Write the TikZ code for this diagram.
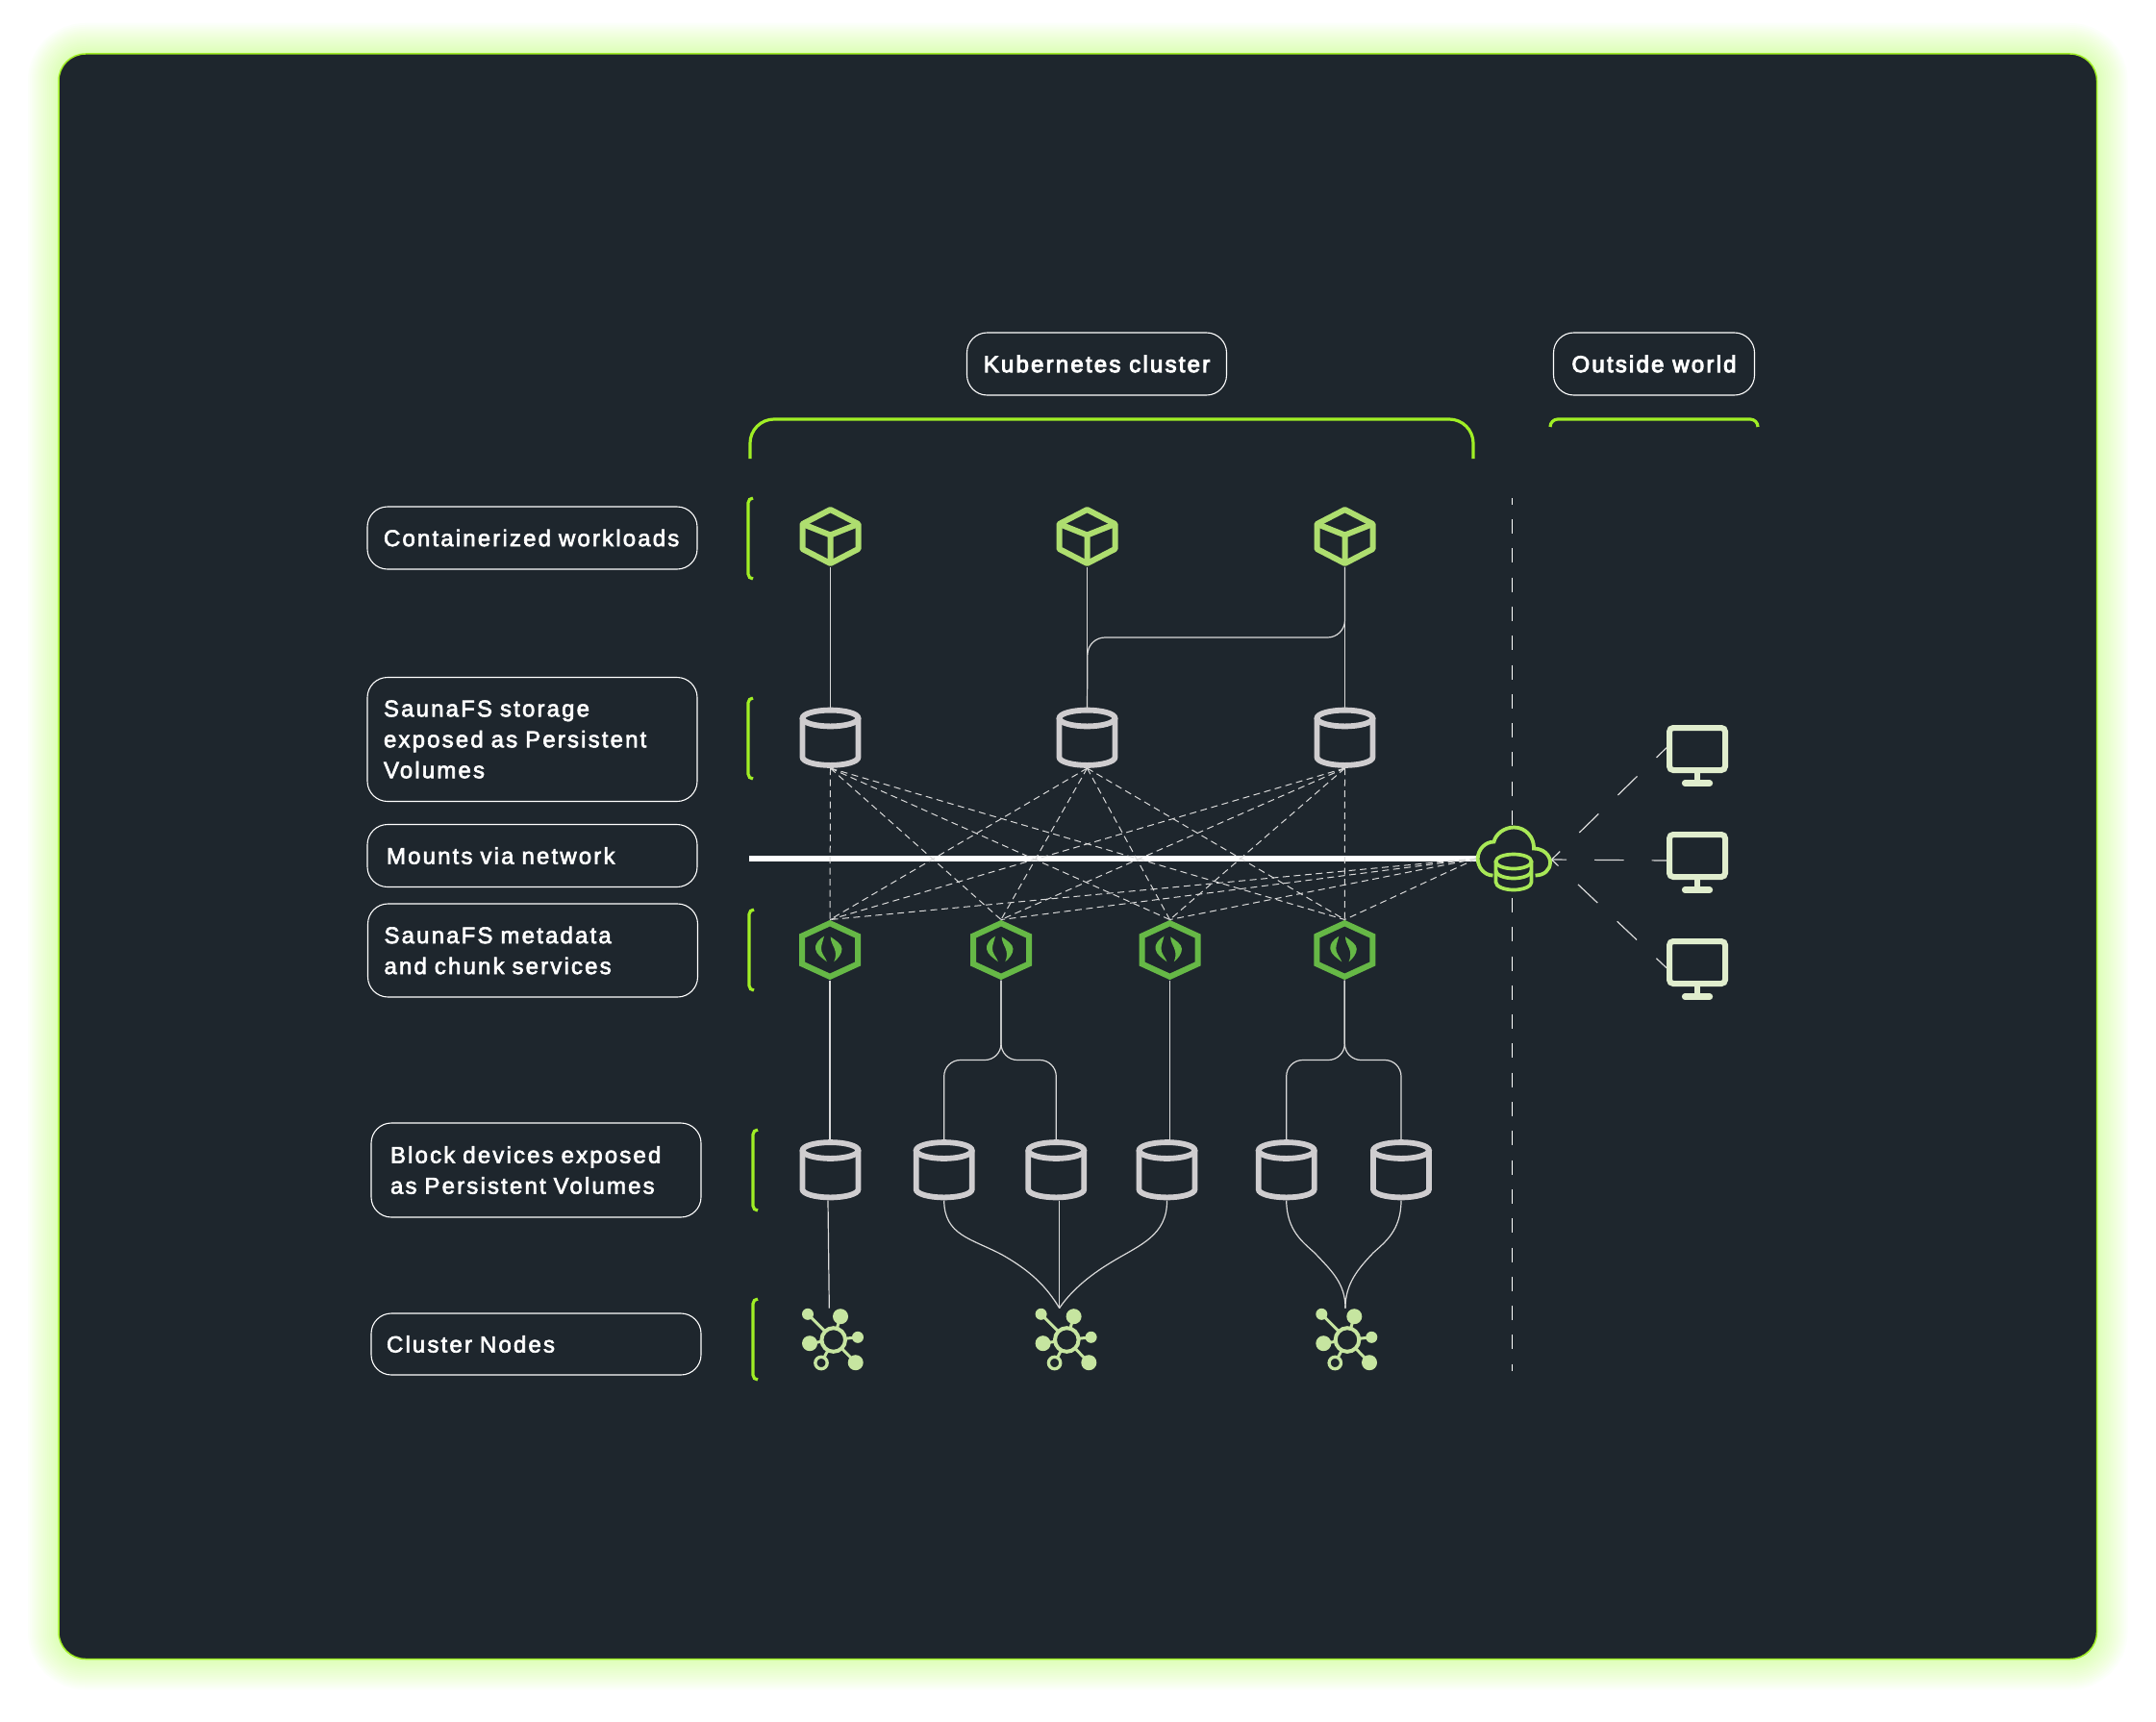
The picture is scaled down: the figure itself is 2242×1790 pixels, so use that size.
\documentclass[tikz,border=0pt]{standalone}
\usepackage{fontspec}
\setmainfont[LetterSpace=9.0,FakeBold=2.6]{Liberation Sans}
\newfontfamily\headfont[LetterSpace=9.2,FakeBold=4]{Liberation Sans}
\definecolor{panelbg}{HTML}{1E262D}
\definecolor{glowgreen}{HTML}{B4FF50}
\definecolor{edgegreen}{HTML}{A0EE25}
\definecolor{cubegreen}{HTML}{AEDE6F}
\definecolor{hexgreen}{HTML}{66B846}
\definecolor{cloudgreen}{HTML}{A8E857}
\definecolor{netgreen}{HTML}{C6E5A0}
\definecolor{monitorgreen}{HTML}{E0EDCD}
\definecolor{diskgrey}{HTML}{CFCDCF}
\definecolor{linkgrey}{HTML}{DADADA}
\tikzset{
  labelbox/.style={draw=white, line width=1.1pt, rounded corners=21pt, text=white, align=left,
    inner xsep=17pt, inner ysep=0pt, text width=309pt, font=\fontsize{24pt}{32pt}\selectfont},
  headbox/.style={draw=white, line width=1.1pt, rounded corners=21pt, text=white, align=center,
    inner sep=0pt, minimum height=65pt, font=\headfont\fontsize{24pt}{32pt}\selectfont},
  bracketline/.style={draw=edgegreen, line width=3.2pt},
  linkline/.style={draw=linkgrey, line width=1.2pt},
  meshline/.style={draw=linkgrey, line width=1pt, dash pattern=on 7pt off 4.5pt},
  iconbox/.style={inner sep=0pt, outer sep=0pt, minimum width=64pt, minimum height=63pt},
  cubeicon/.pic={
    \draw[cubegreen, line width=6pt, line join=round]
      (0,-28) -- (29,-13) -- (29,13) -- (0,28) -- (-29,13) -- (-29,-13) -- cycle;
    \draw[cubegreen, line width=6pt, line join=round] (-29,-13) -- (0,-1.5) -- (29,-13) (0,-1.5) -- (0,28);
  },
  diskicon/.pic={
    \draw[diskgrey, line width=5.8pt] (0,-20.5) ellipse (29 and 8.4);
    \draw[diskgrey, line width=5.8pt] (-29,-20.5) -- (-29,20) arc (180:0:29 and 8.4) -- (29,-20.5);
  },
  hexicon/.pic={
    \draw[hexgreen, line width=6pt]
      (0,-27.8) -- (29,-14.5) -- (29,14.5) -- (0,27.8) -- (-29,14.5) -- (-29,-14.5) -- cycle;
    \fill[hexgreen] (-6,-14.3) .. controls (-11.7,-11) and (-15.8,-6) .. (-15,-1)
      .. controls (-14,5) and (-8,8.5) .. (-3,12.3) .. controls (-5,7) and (-9.5,3) .. (-9,-2)
      .. controls (-8.7,-6) and (-7,-10) .. (-6,-14.3) -- cycle;
    \fill[hexgreen] (0.7,-13.7) .. controls (6,-10) and (12.5,-6) .. (12.5,-1)
      .. controls (12.5,4) and (8.5,9) .. (4.3,12.3) .. controls (6.5,7) and (6.5,3) .. (4.5,-2)
      .. controls (2.8,-6) and (0.7,-9) .. (0.7,-13.7) -- cycle;
  },
  neticon/.pic={
    \draw[netgreen, line width=3pt] (0,0) -- (-26.7,-26.7) (0,0) -- (7.3,-24.3) (0,0) -- (25.3,-2.7)
      (0,0) -- (-24.7,3.7) (0,0) -- (-12.7,24) (0,0) -- (23,23.7);
    \draw[netgreen, line width=4pt, fill=panelbg] (0,0) circle [radius=12.3];
    \fill[netgreen] (-26.7,-26.7) circle [radius=6];
    \fill[netgreen] (7.3,-24.3) circle [radius=8];
    \fill[netgreen] (25.3,-2.7) circle [radius=6];
    \fill[netgreen] (-24.7,3.7) circle [radius=8];
    \fill[netgreen] (23,23.7) circle [radius=8];
    \draw[netgreen, line width=3.3pt, fill=panelbg] (-12.7,24) circle [radius=6.2];
  },
  monitoricon/.pic={
    \draw[monitorgreen, line width=6pt, rounded corners=4pt] (-29,-22) rectangle (29,22);
    \draw[monitorgreen, line width=6pt] (0,24) -- (0,34);
    \draw[monitorgreen, line width=6.6pt, line cap=round] (-12.8,35.7) -- (12.8,35.7);
  },
  cloudicon/.pic={
    \path[fill=panelbg] (-22,17.5) .. controls (-31,17.5) and (-37.8,9) .. (-37.8,0)
      .. controls (-37.8,-9.5) and (-30,-17.5) .. (-21,-17.5) .. controls (-19,-26) and (-10,-32.5) .. (0,-32.5)
      .. controls (12,-32.5) and (21,-22) .. (20.5,-10.5) .. controls (30,-10.5) and (37.5,-4) .. (37.5,4)
      .. controls (37.5,12) and (31,17.5) .. (22,17.5);
    \draw[cloudgreen, line width=3.8pt] (-22,17.5) .. controls (-31,17.5) and (-37.8,9) .. (-37.8,0)
      .. controls (-37.8,-9.5) and (-30,-17.5) .. (-21,-17.5) .. controls (-19,-26) and (-10,-32.5) .. (0,-32.5)
      .. controls (12,-32.5) and (21,-22) .. (20.5,-10.5) .. controls (30,-10.5) and (37.5,-4) .. (37.5,4)
      .. controls (37.5,12) and (31,17.5) .. (22,17.5);
    \path[fill=panelbg] (-19,3) rectangle (18,24.5);
    \path[fill=panelbg] (-19,24.5) arc (180:0:18.5 and 8);
    \draw[cloudgreen, line width=3.7pt] (-0.5,3) ellipse (18.5 and 7.5);
    \draw[cloudgreen, line width=3.7pt] (-19,3) -- (-19,24.5) arc (180:0:18.5 and 8) -- (18,3);
    \draw[cloudgreen, line width=3.7pt] (-19,12.5) arc (180:0:18.5 and 8);
  },
}
\begin{document}
\begin{tikzpicture}[x=1pt,y=-1pt]
  \useasboundingbox (0,0) rectangle (2242,1790);
  \fill[white] (0,0) rectangle (2242,1790);

  % Draw glow and card
  \foreach \w in {64,60,...,4}
    \draw[glowgreen, line width=\w pt, opacity=0.028, rounded corners=28pt] (61,56) rectangle (2180.5,1725.5);
  \draw[edgegreen, line width=1.5pt, fill=panelbg, rounded corners=28pt] (61,56) rectangle (2180.5,1725.5);

  % Header labels and brackets
  \node[headbox, minimum width=270pt] (kube) at (1140.5,378.5) {Kubernetes cluster};
  \node[headbox, minimum width=209pt] (outside) at (1720,378.5) {Outside world};
  \draw[bracketline, rounded corners=25pt] (780,477) |- (1532,436) -- (1532,477);
  \draw[bracketline, rounded corners=8pt] (1612,444) |- (1828,436) -- (1828,444);

  % Row labels
  \node[labelbox, minimum height=65pt] (workloads) at (553.5,559.5) {\mbox{Containerized workloads}};
  \node[labelbox, minimum height=129pt] (storage) at (553.5,769) {SaunaFS storage\\exposed as Persistent\\Volumes};
  \node[labelbox, minimum height=65pt, inner xsep=20pt, text width=303pt] (mounts) at (553.5,890) {Mounts via network};
  \node[labelbox, minimum height=97pt] (services) at (554,988.5) {SaunaFS metadata\\and chunk services};
  \node[labelbox, minimum height=98pt, inner xsep=20pt, text width=303pt] (devices) at (557.5,1217) {Block devices exposed\\as Persistent Volumes};
  \node[labelbox, minimum height=64pt, inner xsep=16pt, text width=311pt] (nodes) at (557.5,1398) {Cluster Nodes};

  % Side brackets of the rows
  \foreach \bx/\ya/\yb in {778/518/602, 778/726/810, 779/946/1030, 783/1175/1259, 783/1351/1435}
    \draw[bracketline, rounded corners=5pt] (\bx+5,\ya) -| (\bx,\yb) -- (\bx+5,\yb);

  % Icon nodes
  \foreach \i/\x in {1/863.5, 2/1130.5, 3/1398.5} {
    \node[iconbox] (cube\i) at (\x,558) {};
    \node[iconbox] (stor\i) at (\x,767.5) {};
  }
  \foreach \i/\x in {1/863, 2/1041, 3/1216.5, 4/1398.3}
    \node[iconbox] (hex\i) at (\x,988) {};
  \foreach \i/\x in {1/863.5, 2/981.7, 3/1098.3, 4/1213.5, 5/1337.7, 6/1457}
    \node[iconbox] (disk\i) at (\x,1217) {};
  \foreach \i/\x in {1/866.7, 2/1109.3, 3/1401}
    \node[iconbox, minimum height=66pt] (net\i) at (\x,1393.5) {};
  \foreach \i/\y in {1/779, 2/890, 3/1001}
    \node[iconbox, minimum height=50pt] (mon\i) at (1765,\y) {};
  \node[iconbox, minimum width=78pt, minimum height=69pt] (cloud) at (1574.5,893) {};

  % Outside world boundary
  \coordinate (limittop) at (1572.3,518);
  \coordinate (limitbot) at (1572.3,1426);
  \draw[draw=white, line width=1.3pt, dash pattern=on 15pt off 15.3pt, dash phase=8.3pt] (limittop) -- (limitbot);

  % Workloads to storage
  \foreach \i in {1,2,3}
    \draw[linkline] (cube\i.south) -- (stor\i.north);
  \coordinate (branch) at (1131,663);
  \draw[linkline, rounded corners=18pt] (cube3.south) |- (branch) -- (stor2.north);

  % Network mesh
  \coordinate (mountstart) at (779,893);
  \draw[draw=white, line width=5.5pt] (mountstart) -- (cloud.west);
  \foreach \c in {1,2,3}
    \foreach \h in {1,2,3,4}
      \draw[meshline] (stor\c.south) -- (hex\h.north);
  \foreach \h in {1,2,3,4}
    \draw[meshline] (cloud.west) -- (hex\h.north);

  % Services to block devices
  \draw[linkline] (hex1.south) -- (hex1.south |- disk1.north);
  \draw[linkline, rounded corners=17pt] (hex2.south) -- ++(0,83) -| (disk2.north);
  \draw[linkline, rounded corners=17pt] (hex2.south) -- ++(0,83) -| (disk3.north);
  \draw[linkline] (hex3.south) -- (hex3.south |- disk4.north);
  \draw[linkline, rounded corners=17pt] (hex4.south) -- ++(0,83) -| (disk5.north);
  \draw[linkline, rounded corners=17pt] (hex4.south) -- ++(0,83) -| (disk6.north);

  % Block devices to cluster nodes
  \draw[linkline] ([xshift=-2.5pt]disk1.south) -- ([xshift=-4.4pt]net1.north);
  \draw[linkline] (disk2.south) .. controls (982,1285) and (1010,1288) .. (1042,1305)
    .. controls (1072,1322) and (1088,1338) .. ([xshift=-7.6pt]net2.north);
  \draw[linkline] ([xshift=3.4pt]disk3.south) -- ([xshift=-7.6pt]net2.north);
  \draw[linkline] (disk4.south) .. controls (1214,1285) and (1185,1295) .. (1157,1312)
    .. controls (1130,1328) and (1112,1345) .. ([xshift=-7.6pt]net2.north);
  \draw[linkline] (disk5.south) .. controls (1338,1280) and (1355,1292) .. (1367,1303)
    .. controls (1385,1322) and (1399,1335) .. ([xshift=-2pt]net3.north);
  \draw[linkline] (disk6.south) .. controls (1457,1280) and (1440,1292) .. (1428,1303)
    .. controls (1412,1320) and (1399,1335) .. ([xshift=-2pt]net3.north);

  % Monitors to the cloud
  \draw[draw=linkgrey, line width=1.2pt, dash pattern=on 28pt off 28pt, dash phase=13.4pt]
    ([yshift=1.3pt]mon1.west) -- ([yshift=-1pt]cloud.east);
  \draw[draw=linkgrey, line width=1.2pt, dash pattern=on 30.5pt off 29pt, dash phase=15.2pt]
    ([yshift=-5pt]mon2.west) -- ([yshift=-1pt]cloud.east);
  \draw[draw=linkgrey, line width=1.2pt, dash pattern=on 28pt off 28pt, dash phase=13.4pt]
    ([yshift=-5.7pt]mon3.west) -- ([yshift=-1pt]cloud.east);

  % Draw the icons
  \foreach \i in {1,2,3} {
    \pic at (cube\i) {cubeicon};
    \pic at (stor\i) {diskicon};
    \pic at (net\i) {neticon};
    \pic at (mon\i) {monitoricon};
  }
  \foreach \i in {1,2,3,4}
    \pic at (hex\i) {hexicon};
  \foreach \i in {1,...,6}
    \pic at (disk\i) {diskicon};
  \pic at (cloud) {cloudicon};
\end{tikzpicture}
\end{document}
